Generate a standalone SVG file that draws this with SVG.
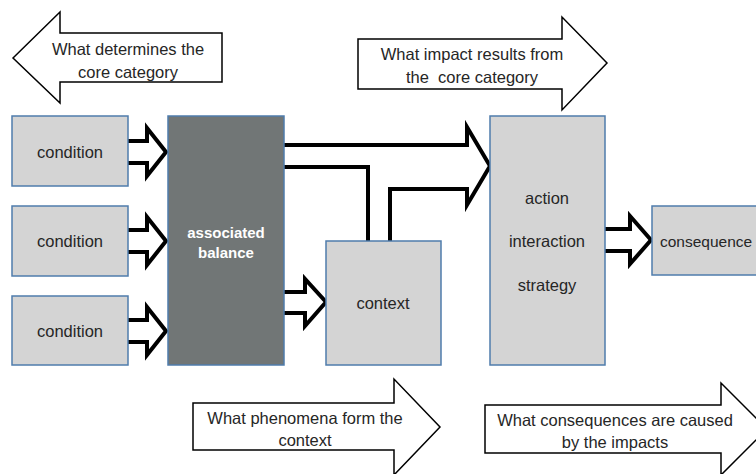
<svg xmlns="http://www.w3.org/2000/svg" width="756" height="474" viewBox="0 0 756 474">
<style>
.box{fill:#d4d4d4;stroke:#4f7cac;stroke-width:1.5}
.dark{fill:#717676;stroke:#4f7cac;stroke-width:1.5}
.t{font-family:"Liberation Sans",Arial,sans-serif;font-size:16.5px;fill:#262626;text-anchor:middle;dominant-baseline:central}
.tb{font-family:"Liberation Sans",Arial,sans-serif;font-size:15px;font-weight:bold;fill:#ffffff;text-anchor:middle;dominant-baseline:central}
.call{fill:#ffffff;stroke:#000000;stroke-width:1.5;stroke-linejoin:miter}
.blk{fill:#ffffff;stroke:#000000;stroke-width:4;stroke-linejoin:miter}
.fillonly{fill:#ffffff;stroke:none}
.strokeonly{fill:none;stroke:#000000;stroke-width:4;stroke-linejoin:miter}
</style>
<rect width="756" height="474" fill="#ffffff"/>

<g id="callout-determines">
<polygon class="call" points="13,58 60,12 60,33 222,33 222,82 60,82 60,103"/>
<text class="t" x="128" y="49">What determines the</text>
<text class="t" x="128" y="72">core category</text>
</g>
<g id="callout-impact">
<polygon class="call" points="358,39 562,39 562,17 607,63 562,110 562,89 358,89"/>
<text class="t" x="472" y="54">What impact results from</text>
<text class="t" x="472" y="77" xml:space="preserve">the  core category</text>
</g>
<g id="callout-phenomena">
<polygon class="call" points="193,403 394,403 394,379 440,427 394,475 394,450 193,450"/>
<text class="t" x="305" y="418">What phenomena form the</text>
<text class="t" x="305" y="440">context</text>
</g>
<g id="callout-consequences">
<polygon class="call" points="485,405 721,405 721,383 767,429 721,475 721,453 485,453"/>
<text class="t" x="615" y="420">What consequences are caused</text>
<text class="t" x="615" y="442">by the impacts</text>
</g>

<g id="connectors">
<path class="blk" d="M128,141 H147 V128 L166,152 L147,176 V163 H128"/>
<path class="blk" d="M128,230 H147 V217 L166,241 L147,265 V252 H128"/>
<path class="blk" d="M128,320 H147 V307 L166,331 L147,355 V342 H128"/>
<path class="blk" d="M284,292 H305 V279 L326,302 L305,326 V313 H284"/>
<polygon class="fillonly" points="284,145 467,145 467,127 490,166 467,205 467,189 390,189 390,241 368,241 368,167 284,167"/>
<path class="strokeonly" d="M284,145 H467 V127 L490,166 L467,205 V189 H390 V241 M368,241 V167 H284"/>
<path class="blk" d="M605,229 H630 V216 L651,240 L630,264 V251 H605"/>
</g>

<g id="condition1">
<rect class="box" x="12" y="116" width="116" height="70"/>
<text class="t" x="70" y="152">condition</text>
</g>
<g id="condition2">
<rect class="box" x="12" y="206" width="116" height="70"/>
<text class="t" x="70" y="241">condition</text>
</g>
<g id="condition3">
<rect class="box" x="12" y="296" width="116" height="69"/>
<text class="t" x="70" y="331">condition</text>
</g>
<g id="associated-balance">
<rect class="dark" x="168" y="116" width="116" height="249"/>
<text class="tb" x="226" y="232">associated</text>
<text class="tb" x="226" y="252">balance</text>
</g>
<g id="context">
<rect class="box" x="326" y="241" width="115" height="124"/>
<text class="t" x="383" y="303">context</text>
</g>
<g id="action">
<rect class="box" x="490" y="116" width="115" height="249"/>
<text class="t" x="547" y="198">action</text>
<text class="t" x="547" y="241">interaction</text>
<text class="t" x="547" y="285">strategy</text>
</g>
<g id="consequence">
<rect class="box" x="652" y="206" width="120" height="69"/>
<text class="t" x="660" y="241" style="text-anchor:start;font-size:15.5px">consequence</text>
</g>
</svg>
